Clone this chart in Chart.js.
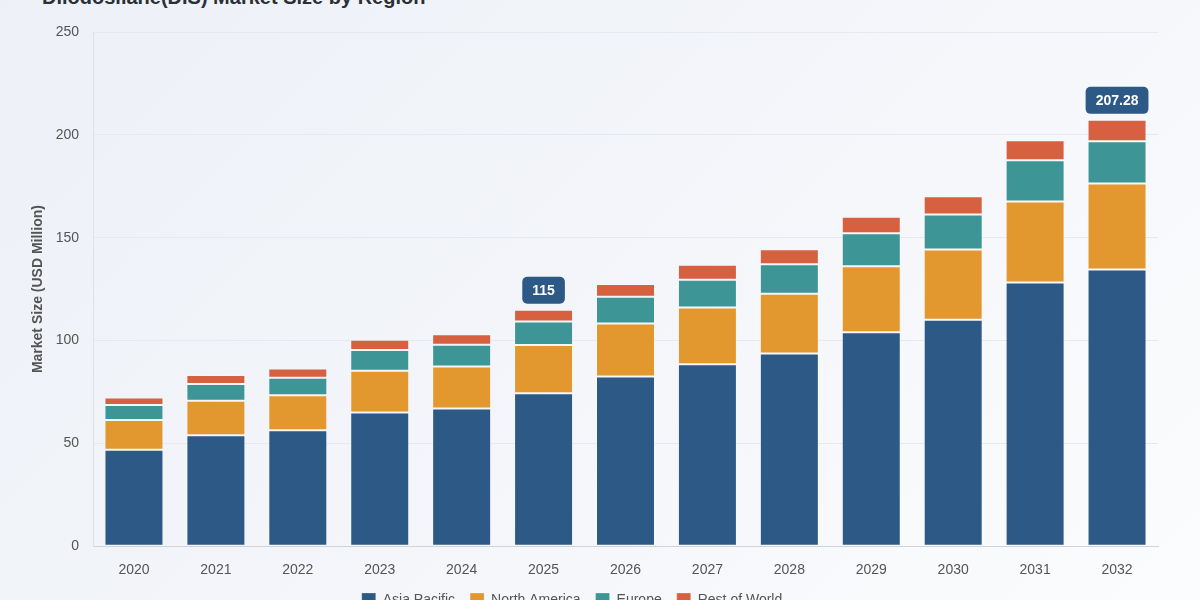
<!DOCTYPE html>
<html>
<head>
<meta charset="utf-8">
<script src="https://cdn.jsdelivr.net/npm/chart.js@4.4.1/dist/chart.umd.min.js"></script>
<style>
  html, body { margin: 0; padding: 0; }
  body {
    width: 1200px; height: 600px; overflow: hidden; position: relative;
    background: linear-gradient(135deg, #edf0f7 0%, #f4f6fa 55%, #fbfcfd 100%);
    font-family: "Liberation Sans", Arial, sans-serif;
  }
  .title {
    position: absolute; left: 42px; top: -14px;
    font-size: 20px; font-weight: bold; color: #2b2f36; white-space: nowrap;
  }
  .wrap { position: absolute; left: 0; top: 0; width: 1200px; height: 626px; }
</style>
</head>
<body>
<div class="title">Diiodosilane(DIS) Market Size by Region</div>
<div class="wrap"><canvas id="chart"></canvas></div>
<script>
const years = ['2020', '2021', '2022', '2023', '2024', '2025', '2026', '2027', '2028', '2029', '2030', '2031', '2032'];
const asiaPacific = [46.9, 53.9, 56.4, 65.0, 66.9, 74.4, 82.5, 88.5, 93.7, 104.0, 110.1, 128.2, 134.5];
const northAmerica = [14.5, 16.8, 17.0, 20.3, 20.5, 23.4, 25.8, 27.6, 29.0, 32.1, 34.1, 39.4, 41.8];
const europe = [7.3, 8.2, 8.5, 10.1, 10.6, 11.4, 13.0, 13.5, 14.4, 16.1, 17.1, 20.0, 20.6];
const restOfWorld = [3.6, 4.3, 4.5, 5.0, 5.0, 5.8, 6.2, 7.2, 7.3, 8.0, 8.8, 9.8, 10.38];
const calloutYears = ['2025', '2032'];
const yTicks = [0, 50, 100, 150, 200, 250];

const font = '"Liberation Sans", Arial, sans-serif';

// boxed total above selected bars
const calloutPlugin = {
  id: 'callouts',
  afterDatasetsDraw(chart) {
    const { ctx } = chart;
    const top = chart.getDatasetMeta(chart.data.datasets.length - 1);
    calloutYears.forEach(yr => {
      const i = years.indexOf(yr);
      const total = chart.data.datasets.reduce((s, d) => s + d.data[i], 0);
      const txt = String(Math.round(total * 100) / 100);
      const bar = top.data[i];
      ctx.save();
      ctx.font = 'bold 14px ' + font;
      const w = ctx.measureText(txt).width + 20;
      const h = 27;
      const x = bar.x - w / 2;
      const y = bar.y - 6 - h;
      ctx.fillStyle = '#2c5985';
      ctx.beginPath();
      ctx.roundRect(x, y, w, h, 5);
      ctx.fill();
      ctx.fillStyle = '#ffffff';
      ctx.textAlign = 'center';
      ctx.textBaseline = 'middle';
      ctx.fillText(txt, bar.x, y + h / 2 + 1);
      ctx.restore();
    });
  }
};

// legend needs wide item gaps but sits close under the axis
const legendNudge = {
  id: 'legendNudge',
  afterLayout(chart) {
    if (chart.legend) { chart.legend.top -= 9; chart.legend.bottom -= 9; }
  }
};

const seg = (label, data, color) => ({
  label, data, backgroundColor: color,
  borderColor: 'rgba(255,255,255,0.25)', borderWidth: 1, borderSkipped: false,
  categoryPercentage: 0.72, barPercentage: 1
});

new Chart(document.getElementById('chart'), {
  type: 'bar',
  data: {
    labels: years,
    datasets: [
      seg('Asia Pacific', asiaPacific, '#2c5985'),
      seg('North America', northAmerica, '#e3982f'),
      seg('Europe', europe, '#3e9595'),
      seg('Rest of World', restOfWorld, '#d6603f'),
    ],
  },
  options: {
    responsive: true, maintainAspectRatio: false, animation: false,
    // negative left padding pulls the centred legend left, like the source
    layout: { padding: { top: 32, right: 42, left: -14, bottom: 0 } },
    plugins: {
      legend: {
        position: 'bottom',
        labels: { boxWidth: 14, boxHeight: 14, padding: 15, color: '#555', font: { size: 14, family: font } }
      },
      tooltip: { enabled: false }
    },
    scales: {
      x: {
        stacked: true,
        grid: { display: false },
        border: { color: '#cfd4dc' },
        ticks: { color: '#555', padding: 8, font: { size: 14, family: font } }
      },
      y: {
        stacked: true, min: 0, max: 250,
        afterBuildTicks: axis => { axis.ticks = yTicks.map(v => ({ value: v })); },
        afterFit: axis => { axis.width = 107; },
        grid: { color: '#e6e9ef', drawTicks: false },
        border: { color: '#dde1e7' },
        ticks: { color: '#555', padding: 14, font: { size: 14, family: font } },
        title: { display: true, text: 'Market Size (USD Million)', color: '#555', padding: { top: 44, bottom: 8 }, font: { size: 14, weight: 'bold', family: font } }
      }
    }
  },
  plugins: [calloutPlugin, legendNudge]
});
</script>
</body>
</html>
